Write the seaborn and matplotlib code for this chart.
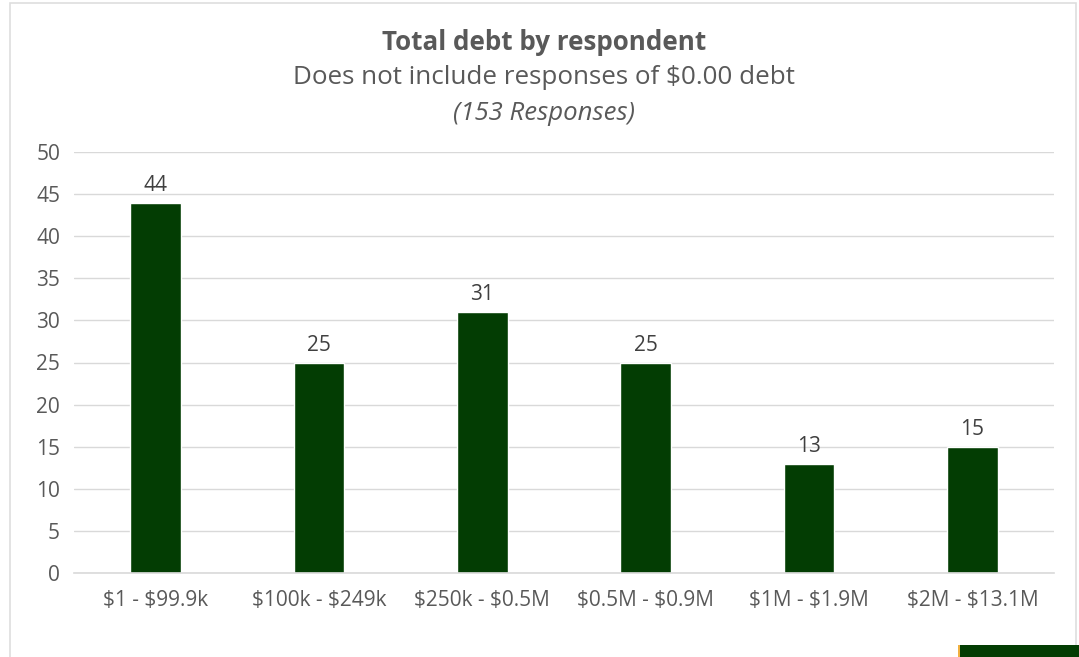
import matplotlib
matplotlib.use("Agg")
import matplotlib.pyplot as plt
import seaborn as sns
import pandas as pd
from matplotlib.patches import Rectangle

categories = ["$1 - $99.9k", "$100k - $249k", "$250k - $0.5M", "$0.5M - $0.9M", "$1M - $1.9M", "$2M - $13.1M"]
counts = [44, 25, 31, 25, 13, 15]
yticks = [0, 5, 10, 15, 20, 25, 30, 35, 40, 45, 50]

sns.set_theme(style="white")
plt.rcParams['font.family'] = ['Open Sans', 'DejaVu Sans']
plt.rcParams['text.parse_math'] = False

txt = "#595959"
bar_color = "#033d03"

fig = plt.figure(figsize=(10.79, 6.57), dpi=100)
ax = fig.add_axes([74/1079, 1-573/657, 980/1079, 421/657])

df = pd.DataFrame({"cat": categories, "n": counts})
sns.barplot(data=df, x="cat", y="n", color=bar_color, width=0.31, ax=ax, saturation=1)

ax.set_ylim(0, 50)
ax.set_yticks(yticks)
ax.set_xlim(-0.5, len(categories) - 0.5)
ax.yaxis.grid(True, color="#d9d9d9", linewidth=1)
ax.set_axisbelow(True)
for s in ["top", "right", "left"]:
    ax.spines[s].set_visible(False)
ax.spines["bottom"].set_color("#d9d9d9")
ax.spines["bottom"].set_linewidth(1.2)
ax.tick_params(axis="both", length=0, labelsize=15, colors=txt, pad=10)
ax.tick_params(axis="x", pad=12)
ax.set_xlabel("")
ax.set_ylabel("")

for c in ax.containers:
    ax.bar_label(c, labels=[str(v) for v in counts], padding=5, fontsize=15, color="#404040")

fig.text(544/1079, 1-42/657, "Total debt by respondent", ha="center", va="center",
         fontsize=18.7, fontweight="bold", color=txt)
fig.text(544/1079, 1-77/657, "Does not include responses of $0.00 debt", ha="center", va="center",
         fontsize=18.7, color=txt)
fig.text(544/1079, 1-113/657, "(153 Responses)", ha="center", va="center",
         fontsize=18.5, style="italic", color=txt)

# outer frame
fig.add_artist(Rectangle((10/1079, -0.01), (1076-10)/1079, 1-3/657 + 0.01, transform=fig.transFigure,
                         fill=False, edgecolor="#dedede", linewidth=1.2))
# bottom-right artifact patch
fig.add_artist(Rectangle((960/1079, 0), 119/1079, 12/657, transform=fig.transFigure,
                         facecolor="#033d03", edgecolor="none"))
fig.add_artist(Rectangle((958/1079, 0), 2/1079, 12/657, transform=fig.transFigure,
                         facecolor="#f0b040", edgecolor="none"))

fig.savefig("out.png", dpi=100)
